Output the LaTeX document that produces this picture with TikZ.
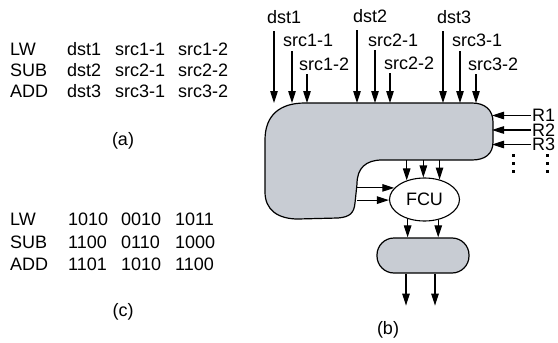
\documentclass[tikz,border=0pt]{standalone}
\usepackage{fontspec}
\setmainfont{Liberation Sans}
\usetikzlibrary{arrows.meta,shapes.geometric,calc}
\definecolor{regfill}{RGB}{200,204,211}
\tikzset{
  >={Triangle[length=12pt,width=7.5pt]},
  every node/.style={font=\fontsize{18}{20}\selectfont},
  txt/.style={inner sep=0pt,anchor=base west},
  sublbl/.style={inner sep=0pt},
  arr/.style={->,line width=1.1pt},
  unit/.style={draw,line width=1.2pt,fill=regfill},
}

\begin{document}
\begin{tikzpicture}[x=1pt,y=-1pt]
  \useasboundingbox (0,0) rectangle (558,343);

  % (a) instruction sequence
  \foreach \r/\y/\op/\d/\sa/\sb in {1/55.3/LW/dst1/src1-1/src1-2,
      2/76.3/SUB/dst2/src2-1/src2-2, 3/97.3/ADD/dst3/src3-1/src3-2}{
    \node[txt] (aop\r) at (10,\y) {\op};
    \node[txt] (ad\r)  at (67,\y) {\d};
    \node[txt] (asa\r) at (115,\y) {\sa};
    \node[txt] (asb\r) at (178,\y) {\sb};
  }
  \node[sublbl] (capa) at (123,141) {(a)};

  % (c) encoded form
  \foreach \r/\y/\op/\d/\sa/\sb in {1/225/LW/1010/0010/1011,
      2/248/SUB/1100/0110/1000, 3/270.5/ADD/1101/1010/1100}{
    \node[txt] (cop\r) at (10,\y) {\op};
    \node[txt] (cd\r)  at (68,\y) {\d};
    \node[txt] (csa\r) at (121,\y) {\sa};
    \node[txt] (csb\r) at (175,\y) {\sb};
  }
  \node[sublbl] (capc) at (123,311.5) {(c)};

  % (b) register unit
  \path[unit] (265,140) .. controls (265,115) and (280,103) .. (305,103)
    -- (472,103) .. controls (485,103) and (493,110) .. (493,122)
    -- (493,142) .. controls (493,154) and (485,160) .. (472,160)
    -- (382,160) .. controls (366,160) and (357,168) .. (357,184)
    -- (355,203) .. controls (354,213) and (350,217) .. (338,218)
    -- (298,219) .. controls (278,219) and (265,210) .. (265,192)
    -- cycle;
  \coordinate (top)   at (0,103);
  \coordinate (right) at (492,0);
  \coordinate (notch) at (0,160);
  \coordinate (inner) at (357,0);

  \foreach \n/\t/\lx/\ly/\ax/\ay in {d1/dst1/267/23.5/274/31,
      s11/src1-1/283/46.7/292/51, s12/src1-2/299/70/307/74,
      d2/dst2/353/22/357/30, s21/src2-1/368/46.2/375/50,
      s22/src2-2/384/69.5/390/73, d3/dst3/437/23.5/443/31,
      s31/src3-1/452/46.7/460/51, s32/src3-2/468/70/476/74}{
    \node[txt] (\n) at (\lx,\ly) {\t};
    \coordinate (\n-a) at (\ax,\ay);
    \draw[arr] (\n-a) -- (\n-a |- top);
  }

  \foreach \n/\y in {1/115.5,2/130,3/144.5}{
    \node[inner sep=0pt,anchor=west] (r\n) at (532,\y) {R\n};
    \draw[arr] ([xshift=-1pt]r\n.west) -- (r\n.west -| right);
  }
  % more registers
  \foreach \x in {513,547}
    \foreach \y in {155,163,171}
      \fill (\x-1.5,\y-1.5) rectangle ++(3,3);

  \node[ellipse,draw,line width=1.1pt,fill=white,minimum width=70pt,
        minimum height=43pt,inner sep=0pt] (fcu) at (424.5,199.5) {FCU};
  \node[unit,rounded corners=17pt,minimum width=92pt,minimum height=35pt]
    (buf) at (423,255.5) {};

  \foreach \a in {53,93,133}
    \draw[arr] (fcu.\a |- notch) -- (fcu.\a);
  \foreach \a in {159,181}
    \draw[arr] (fcu.\a -| inner) -- (fcu.\a);
  \foreach \a in {229,304}
    \draw[arr] (fcu.\a) -- (fcu.\a |- buf.north);
  \draw[arr] ([xshift=-17pt]buf.south) -- ++(0,32);
  \draw[arr] ([xshift=12pt]buf.south) -- ++(0,32);

  \node[sublbl] (capb) at (388,329.5) {(b)};
\end{tikzpicture}
\end{document}
